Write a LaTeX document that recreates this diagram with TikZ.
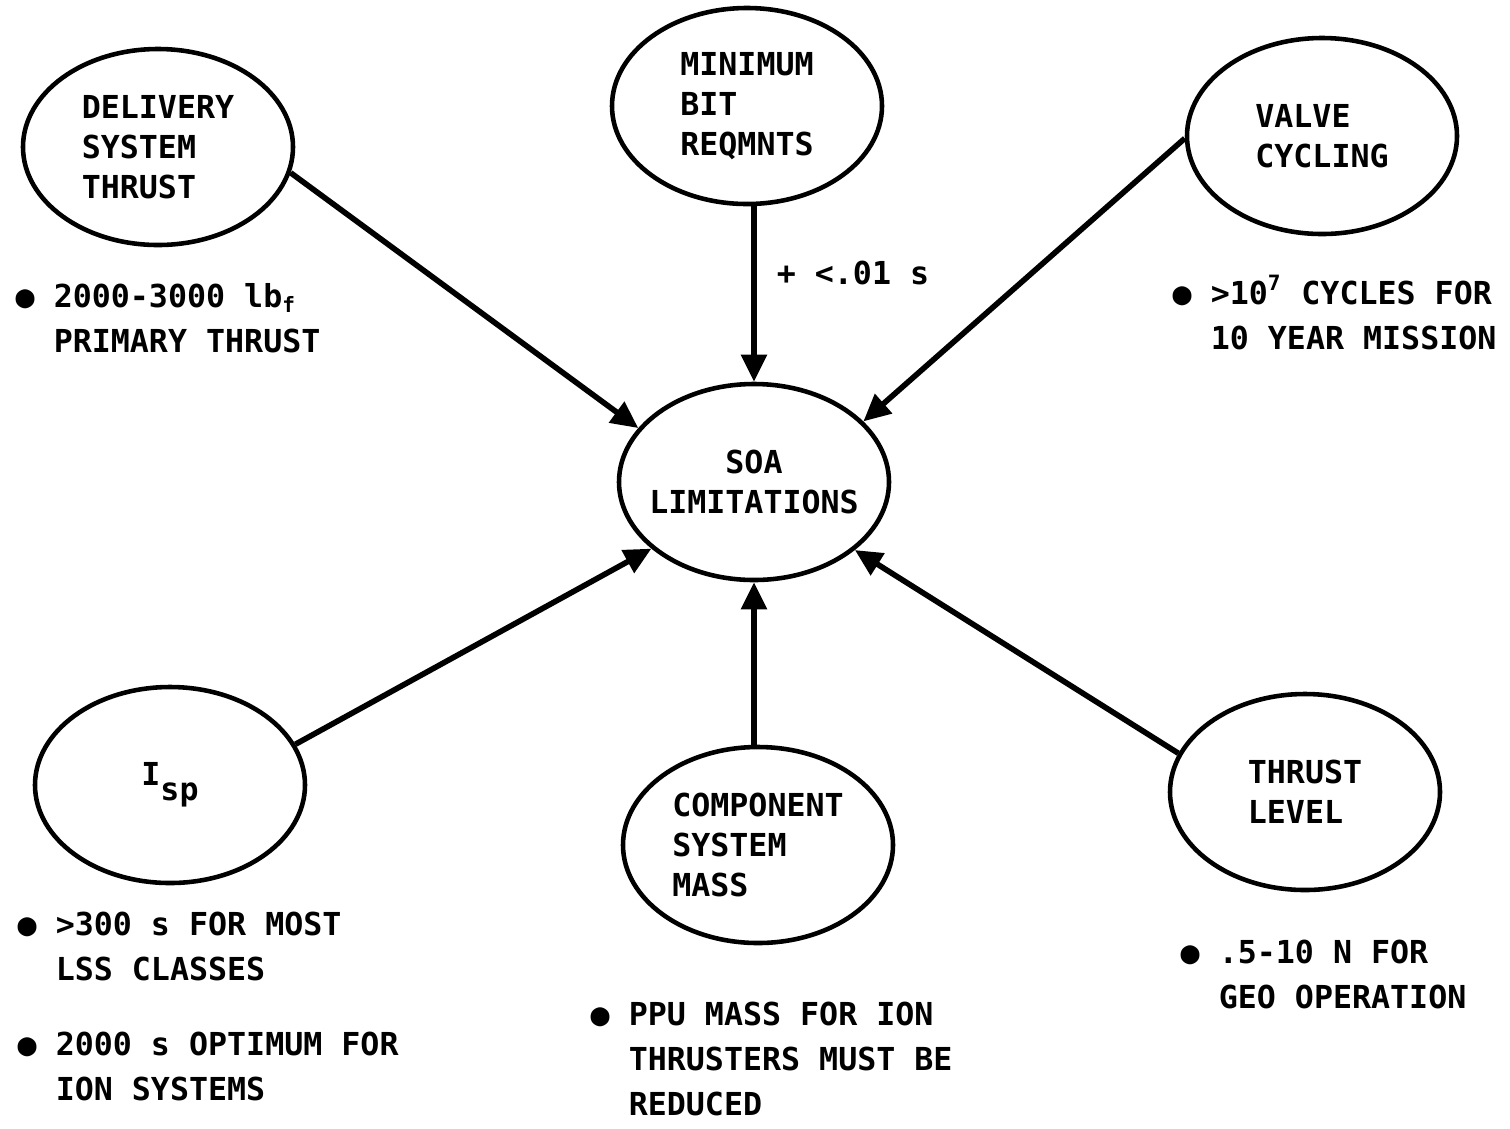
\documentclass[tikz,border=0pt]{standalone}
\usepackage{fontspec}
\newfontfamily\gothic{DejaVu Sans Mono}
\usetikzlibrary{shapes.geometric,arrows.meta}
\begin{document}
\begin{tikzpicture}[
    bubble/.style={ellipse,draw,line width=1.3pt,minimum width=2.7cm,minimum height=1.96cm,
                   inner xsep=-4mm,inner ysep=-2mm,align=left,
                   font=\gothic\bfseries\fontsize{9}{11.4}\selectfont},
    note/.style={anchor=base west,inner sep=0pt,align=left,
                 font=\gothic\bfseries\fontsize{9}{12.8}\selectfont},
    feed/.style={line width=1.6pt,-{Triangle[length=2.7mm,width=2.5mm]}}
]
\useasboundingbox (0,0) rectangle (15.1,-11.28);

% centre and the six factors
\node[bubble,align=center] (soa)    at (7.54,-4.82)  {SOA\\LIMITATIONS};
\node[bubble]              (dst)    at (1.58,-1.47)  {DELIVERY\\SYSTEM\\THRUST};
\node[bubble]              (minbit) at (7.47,-1.06)  {MINIMUM\\BIT\\REQMNTS};
\node[bubble]              (valve)  at (13.22,-1.36) {VALVE\\CYCLING};
\node[bubble]              (isp)    at (1.70,-7.85)  {I\raisebox{-1.5mm}{sp}};
\node[bubble]              (comp)   at (7.58,-8.45)  {COMPONENT\\SYSTEM\\MASS};
\node[bubble]              (thrust) at (13.05,-7.92) {THRUST\\LEVEL};

% notes (placed by the baseline of their last line)
\node[note] (dstnote)    at (0.15,-3.52)  {● 2000-3000 lb\textsubscript{f}\\\phantom{● }PRIMARY THRUST};
\node[note] (valvenote)  at (11.72,-3.49) {● >10\textsuperscript{7} CYCLES FOR\\\phantom{● }10 YEAR MISSION};
\node[note] (ispnote)    at (0.17,-11.00) {● >300 s FOR MOST\\\phantom{● }LSS CLASSES\\[3mm]● 2000 s OPTIMUM FOR\\\phantom{● }ION SYSTEMS};
\node[note] (compnote)   at (5.90,-11.15) {● PPU MASS FOR ION\\\phantom{● }THRUSTERS MUST BE\\\phantom{● }REDUCED};
\node[note] (thrustnote) at (11.80,-10.08) {● .5-10 N FOR\\\phantom{● }GEO OPERATION};

\draw[feed] (dst.-11) -- (soa.155);
\draw[feed] (minbit.south -| soa.north) -- node[note,anchor=west,xshift=2mm,pos=0.38] (bitnote) {+ <.01 s} (soa.north);
\draw[feed] (valve.181) -- (soa.29);
\draw[feed] (isp.18) -- (soa.213);
\draw[feed] (comp.north -| soa.south) -- (soa.south);
\draw[feed] (thrust.163) -- (soa.-34);
\end{tikzpicture}
\end{document}
